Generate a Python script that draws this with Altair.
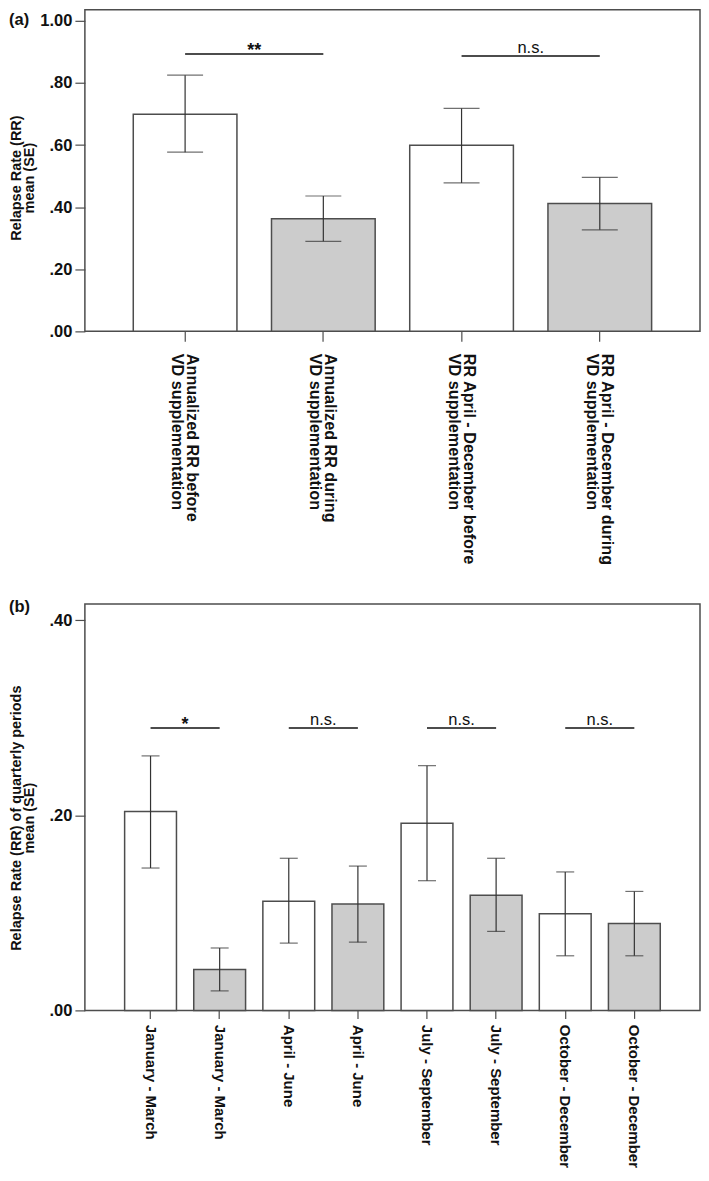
import altair as alt
import pandas as pd

# ---------------- Panel (a) data ----------------
cats_a = [
    "Annualized RR before|VD supplementation",
    "Annualized RR during|VD supplementation",
    "RR April - December before|VD supplementation",
    "RR April - December during|VD supplementation",
]
groups_a = ["before", "during", "before", "during"]
mean_a = [0.699, 0.363, 0.599, 0.412]
lo_a = [0.577, 0.290, 0.478, 0.327]
hi_a = [0.825, 0.436, 0.718, 0.496]
sig_from_a = [cats_a[0], cats_a[2]]
sig_to_a = [cats_a[1], cats_a[3]]
sig_y_a = [0.893, 0.887]
sig_text_a = ["**", "n.s."]
yticks_a = [0.0, 0.2, 0.4, 0.6, 0.8, 1.0]

# ---------------- Panel (b) data ----------------
# the second of each pair carries a zero-width space so that the band keys stay unique
ZW = "\u200b"
cats_b = [
    "January - March", "January - March" + ZW,
    "April - June", "April - June" + ZW,
    "July - September", "July - September" + ZW,
    "October - December", "October - December" + ZW,
]
groups_b = ["before", "during"] * 4
mean_b = [0.204, 0.042, 0.112, 0.109, 0.192, 0.118, 0.099, 0.089]
lo_b = [0.146, 0.020, 0.069, 0.070, 0.133, 0.081, 0.056, 0.056]
hi_b = [0.261, 0.064, 0.156, 0.148, 0.251, 0.156, 0.142, 0.122]
sig_from_b = [cats_b[0], cats_b[2], cats_b[4], cats_b[6]]
sig_to_b = [cats_b[1], cats_b[3], cats_b[5], cats_b[7]]
sig_y_b = [0.2895, 0.2895, 0.2895, 0.2895]
sig_text_b = ["*", "n.s.", "n.s.", "n.s."]
yticks_b = [0.0, 0.2, 0.4]

FONT = "Liberation Sans"
EDGE = "#4d4d4d"
W = 616


def panel(cats, groups, mean, lo, hi, sfrom, sto, sy, stext, yticks,
          width, height, ytop, pad_outer, cap, ytitle, title_y,
          xlab_size, xlab_lh, xlab_off, xtick, xpad, plabel, plabel_y, ns_dy):
    n = len(cats)
    step = width / (n - 0.25 + 2 * pad_outer)
    x_scale = alt.Scale(domain=cats, paddingInner=0.25, paddingOuter=pad_outer)
    y_scale = alt.Scale(domain=[0, ytop], nice=False, zero=True)
    x_axis = alt.Axis(
        labelAngle=90, labelAlign="left", labelBaseline="middle",
        labelFont=FONT, labelFontSize=xlab_size, labelFontWeight="bold",
        labelLineHeight=xlab_lh, labelColor="#111", labelLimit=400,
        labelExpr="split(datum.label, '|')", labelOffset=xlab_off,
        tickSize=xtick, labelPadding=xpad, tickColor=EDGE, tickWidth=1.2,
        domain=False, grid=False, title=None,
    )
    y_axis = alt.Axis(
        values=yticks, grid=False, domain=False,
        labelExpr="datum.value >= 1 ? format(datum.value, '.2f') : substring(format(datum.value, '.2f'), 1)",
        labelFont=FONT, labelFontSize=16.5, labelFontWeight="bold", labelColor="#111",
        labelPadding=3, tickSize=10, tickColor=EDGE, tickWidth=1.2,
        title=ytitle, titleFont=FONT, titleFontSize=14.5, titleFontWeight="bold",
        titleColor="#111", titleLineHeight=12.5, titleX=-61, titleY=title_y,
        titleBaseline="bottom", titleAlign="center", titleAngle=270,
    )

    def X(f):
        return alt.X(f + ":N", scale=x_scale, axis=x_axis, sort=None, title=None)

    def Y(f):
        return alt.Y(f + ":Q", scale=y_scale, axis=y_axis, title=ytitle)

    df = pd.DataFrame({"cat": cats, "grp": groups, "mean": mean, "lo": lo, "hi": hi})
    base = alt.Chart(df)
    bars = base.mark_bar(stroke=EDGE, strokeWidth=1.5).encode(
        x=X("cat"), y=Y("mean"),
        fill=alt.Fill("grp:N", scale=alt.Scale(domain=["before", "during"],
                                               range=["#ffffff", "#cccccc"]), legend=None),
    )
    err = base.mark_rule(color="#333333", strokeWidth=1.2).encode(
        x=X("cat"), y=Y("lo"), y2="hi:Q")
    cap_hi = base.mark_tick(color="#333333", thickness=1.2, size=cap).encode(x=X("cat"), y=Y("hi"))
    cap_lo = base.mark_tick(color="#333333", thickness=1.2, size=cap).encode(x=X("cat"), y=Y("lo"))

    sig = pd.DataFrame({"a": sfrom, "b": sto, "y": sy, "t": stext})
    sbase = alt.Chart(sig)
    srule = sbase.mark_rule(color="#111111", strokeWidth=1.5).encode(
        x=X("a"), x2="b:N", y=Y("y"))
    stext_star = sbase.transform_filter("datum.t != 'n.s.'").mark_text(
        dx=step / 2, dy=2, font=FONT, fontSize=18, fontWeight="bold",
        baseline="alphabetic", align="center", color="#111").encode(
        x=X("a"), y=Y("y"), text="t:N")
    stext_ns = sbase.transform_filter("datum.t == 'n.s.'").mark_text(
        dx=step / 2, dy=ns_dy, font=FONT, fontSize=16.5, fontWeight="normal",
        baseline="alphabetic", align="center", color="#111").encode(
        x=X("a"), y=Y("y"), text="t:N")

    lab = alt.Chart(pd.DataFrame({"p": [plabel]})).mark_text(
        font=FONT, fontSize=16.5, fontWeight="bold", align="left",
        baseline="middle", color="#111").encode(
        text="p:N", x=alt.value(-76), y=alt.value(plabel_y))

    return alt.layer(bars, err, cap_hi, cap_lo, srule, stext_star, stext_ns, lab).properties(
        width=width, height=height)


chart_a = panel(cats_a, groups_a, mean_a, lo_a, hi_a, sig_from_a, sig_to_a, sig_y_a,
                sig_text_a, yticks_a, W, 322, 1.0354, 0.35, 36,
                ["Relapse Rate (RR)", "mean (SE)"], 168, 16.2, 15, 7, 10, 12, "(a)", 10, -2.5)
chart_b = panel(cats_b, groups_b, mean_b, lo_b, hi_b, sig_from_b, sig_to_b, sig_y_b,
                sig_text_b, yticks_b, W, 407, 0.4168, 0.575, 18,
                ["Relapse Rate (RR) of quarterly periods", "mean (SE)"], 214, 15, 15, 0, 8, 6, "(b)", 3, -3)

chart = alt.vconcat(chart_a, chart_b, spacing=273, bounds="flush").properties(
    padding=0
).configure_view(stroke=EDGE, strokeWidth=1.5)

chart.save("out.html", embed_options={"renderer": "svg", "actions": False})
